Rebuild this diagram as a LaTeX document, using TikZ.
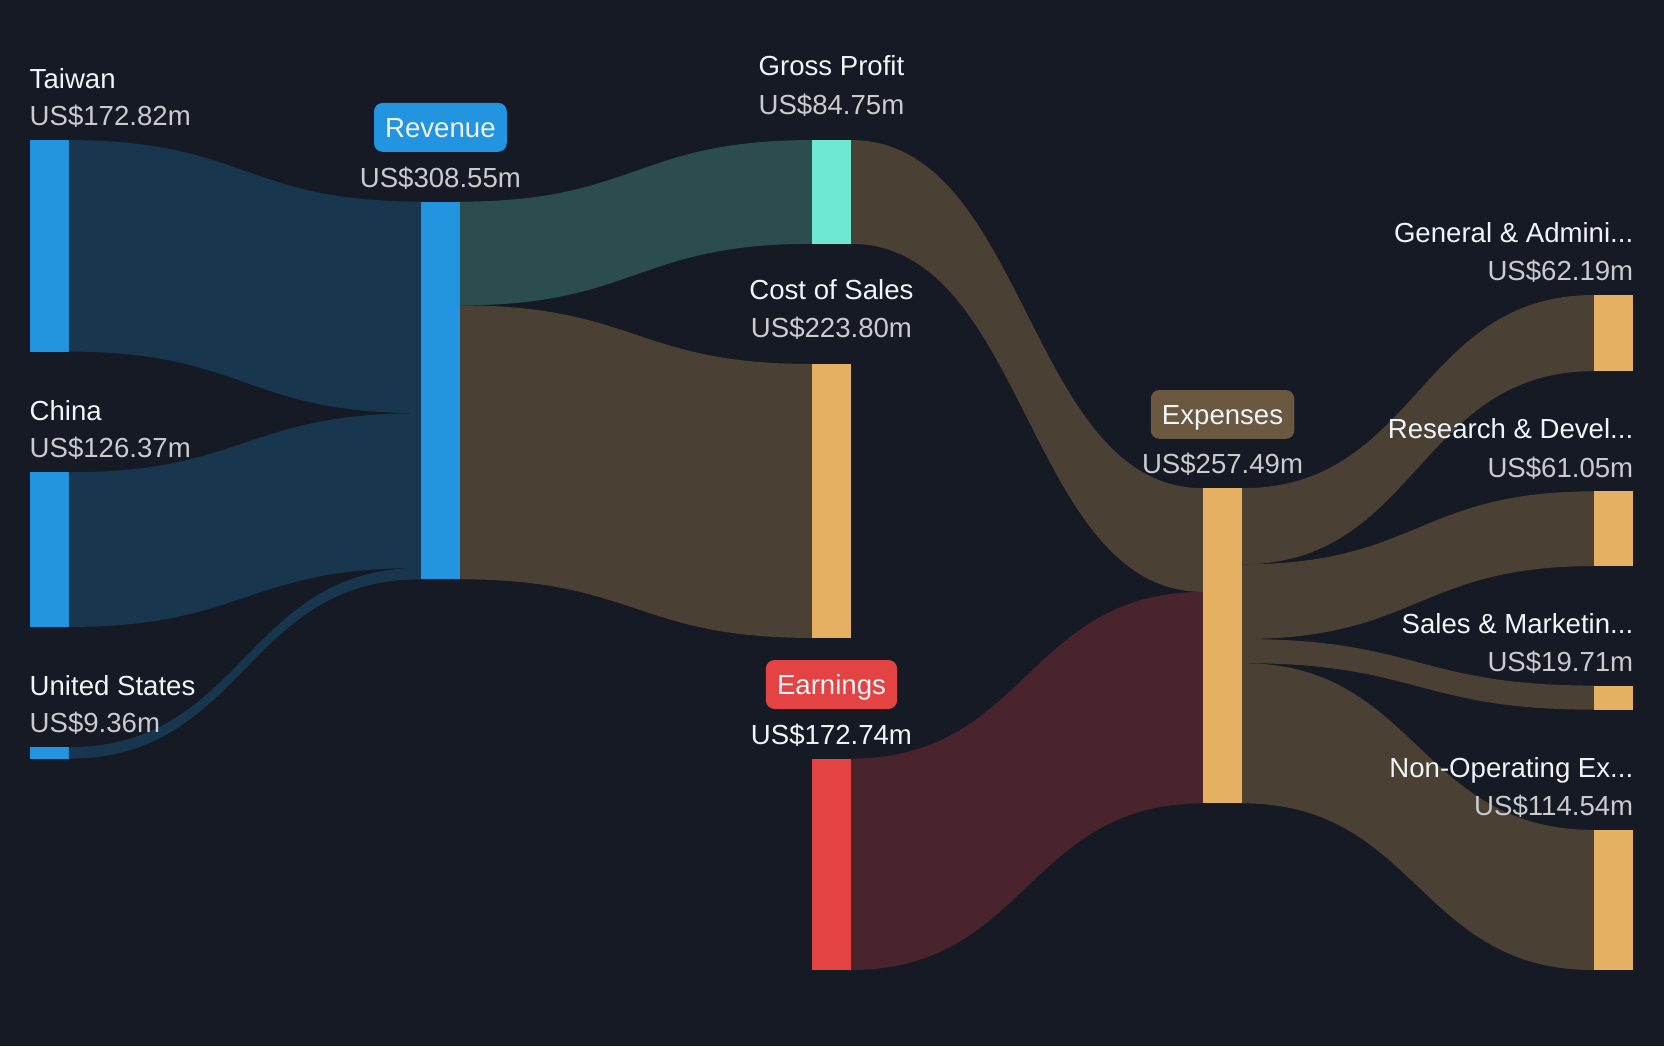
\documentclass[tikz,border=0pt]{standalone}
\usepackage{fontspec}
\setmainfont{Liberation Sans}
\usetikzlibrary{calc}
\definecolor{bg}{HTML}{151A24}
\definecolor{barblue}{HTML}{2394DF}
\definecolor{flowblue}{HTML}{18374F}
\definecolor{barteal}{HTML}{6EE7D3}
\definecolor{flowteal}{HTML}{2B4D50}
\definecolor{barorange}{HTML}{E5B062}
\definecolor{flowbrown}{HTML}{4A4033}
\definecolor{barred}{HTML}{E44343}
\definecolor{flowred}{HTML}{4A242C}
\definecolor{expbadge}{HTML}{6B5840}
\definecolor{nametxt}{HTML}{F1F4F8}
\definecolor{valtxt}{HTML}{C9CBCF}
\newcommand\sflow[5]{%
  \fill[#1] let \p1=#2, \p2=#3, \p3=#4, \p4=#5, \n1={(\x1+\x3)/2} in
    (\p1) .. controls (\n1,\y1) and (\n1,\y3) .. (\p3) -- (\p4)
    .. controls (\n1,\y4) and (\n1,\y2) .. (\p2) -- cycle;}
\begin{document}
\begin{tikzpicture}[x=1pt,y=-1pt,
  bar/.style={rectangle,inner sep=0pt,outer sep=0pt,minimum width=37pt,anchor=north west},
  lbl/.style={inner sep=0pt,outer sep=0pt,font=\fontsize{26}{30}\selectfont},
  nm/.style={lbl,text=nametxt},
  val/.style={lbl,text=valtxt},
  badge/.style={lbl,rounded corners=8pt,inner xsep=10.5pt,minimum height=46pt,
    text height=18.6pt,text depth=0pt,text=nametxt}]
\fill[bg] (0,0) rectangle (1568,986);
\useasboundingbox (0,0) rectangle (1568,986);
% bars
\node[bar,fill=barblue,minimum height=199.33pt] (tw) at (28,132) {};
\node[bar,fill=barblue,minimum height=145.76pt] (cn) at (28,445) {};
\node[bar,fill=barblue,minimum height=10.8pt] (us) at (28,704) {};
\node[bar,fill=barblue,minimum height=355.88pt] (rev) at (396.5,190) {};
\node[bar,fill=barteal,minimum height=97.75pt] (gp) at (765,132) {};
\node[bar,fill=barorange,minimum height=258.13pt] (cos) at (765,343) {};
\node[bar,fill=barred,minimum height=199.24pt] (earn) at (765,714.8) {};
\node[bar,fill=barorange,minimum height=297pt] (exp) at (1133.5,460) {};
\node[bar,fill=barorange,minimum height=71.73pt] (ga) at (1502,278) {};
\node[bar,fill=barorange,minimum height=70.42pt] (rd) at (1502,463) {};
\node[bar,fill=barorange,minimum height=22.73pt] (sm) at (1502,646) {};
\node[bar,fill=barorange,minimum height=132.11pt] (no) at (1502,782) {};
% flows
\sflow{flowblue}{(tw.north east)}{(tw.south east)}{(rev.north west)}{([yshift=-199.33pt]rev.north west)}
\sflow{flowblue}{(cn.north east)}{(cn.south east)}{([yshift=-199.33pt]rev.north west)}{([yshift=-345.09pt]rev.north west)}
\sflow{flowblue}{(us.north east)}{(us.south east)}{([yshift=-345.09pt]rev.north west)}{(rev.south west)}
\sflow{flowteal}{(rev.north east)}{([yshift=-97.75pt]rev.north east)}{(gp.north west)}{(gp.south west)}
\sflow{flowbrown}{([yshift=-97.75pt]rev.north east)}{(rev.south east)}{(cos.north west)}{(cos.south west)}
\sflow{flowbrown}{(gp.north east)}{(gp.south east)}{(exp.north west)}{([yshift=-97.75pt]exp.north west)}
\sflow{flowred}{(earn.north east)}{(earn.south east)}{([yshift=-97.75pt]exp.north west)}{(exp.south west)}
\sflow{flowbrown}{(exp.north east)}{([yshift=-71.73pt]exp.north east)}{(ga.north west)}{(ga.south west)}
\sflow{flowbrown}{([yshift=-71.73pt]exp.north east)}{([yshift=-142.15pt]exp.north east)}{(rd.north west)}{(rd.south west)}
\sflow{flowbrown}{([yshift=-142.15pt]exp.north east)}{([yshift=-164.88pt]exp.north east)}{(sm.north west)}{(sm.south west)}
\sflow{flowbrown}{([yshift=-164.88pt]exp.north east)}{(exp.south east)}{(no.north west)}{(no.south west)}
% labels left
\node[nm,anchor=base west] (twn) at (28,83.5) {Taiwan};
\node[val,anchor=base west] (twv) at (28,118.5) {US\$172.82m};
\node[nm,anchor=base west] (cnn) at (28,396.5) {China};
\node[val,anchor=base west] (cnv) at (28,431.5) {US\$126.37m};
\node[nm,anchor=base west] (usn) at (28,655.5) {United States};
\node[val,anchor=base west] (usv) at (28,690.5) {US\$9.36m};
% revenue
\node[badge,fill=barblue] (revb) at (415,120) {Revenue};
\node[val,anchor=base] (revv) at (415,176.5) {US\$308.55m};
% middle
\node[nm,anchor=base] (gpn) at (783.5,71.5) {Gross Profit};
\node[val,anchor=base] (gpv) at (783.5,107.5) {US\$84.75m};
\node[nm,anchor=base] (cosn) at (783.5,282.5) {Cost of Sales};
\node[val,anchor=base] (cosv) at (783.5,318) {US\$223.80m};
\node[badge,fill=barred] (earnb) at (783.5,645) {Earnings};
\node[nm,anchor=base] (earnv) at (783.5,701.3) {US\$172.74m};
% expenses
\node[badge,fill=expbadge] (expb) at (1152,390.5) {Expenses};
\node[val,anchor=base] (expv) at (1152,446.5) {US\$257.49m};
% right
\node[nm,anchor=base east] (gan) at (1539,228.5) {General \& Admini...};
\node[val,anchor=base east] (gav) at (1539,264.5) {US\$62.19m};
\node[nm,anchor=base east] (rdn) at (1539,413.5) {Research \& Devel...};
\node[val,anchor=base east] (rdv) at (1539,449.5) {US\$61.05m};
\node[nm,anchor=base east] (smn) at (1539,596.5) {Sales \& Marketin...};
\node[val,anchor=base east] (smv) at (1539,632.5) {US\$19.71m};
\node[nm,anchor=base east] (non) at (1539,732.5) {Non-Operating Ex...};
\node[val,anchor=base east] (nov) at (1539,768.5) {US\$114.54m};
\end{tikzpicture}
\end{document}
